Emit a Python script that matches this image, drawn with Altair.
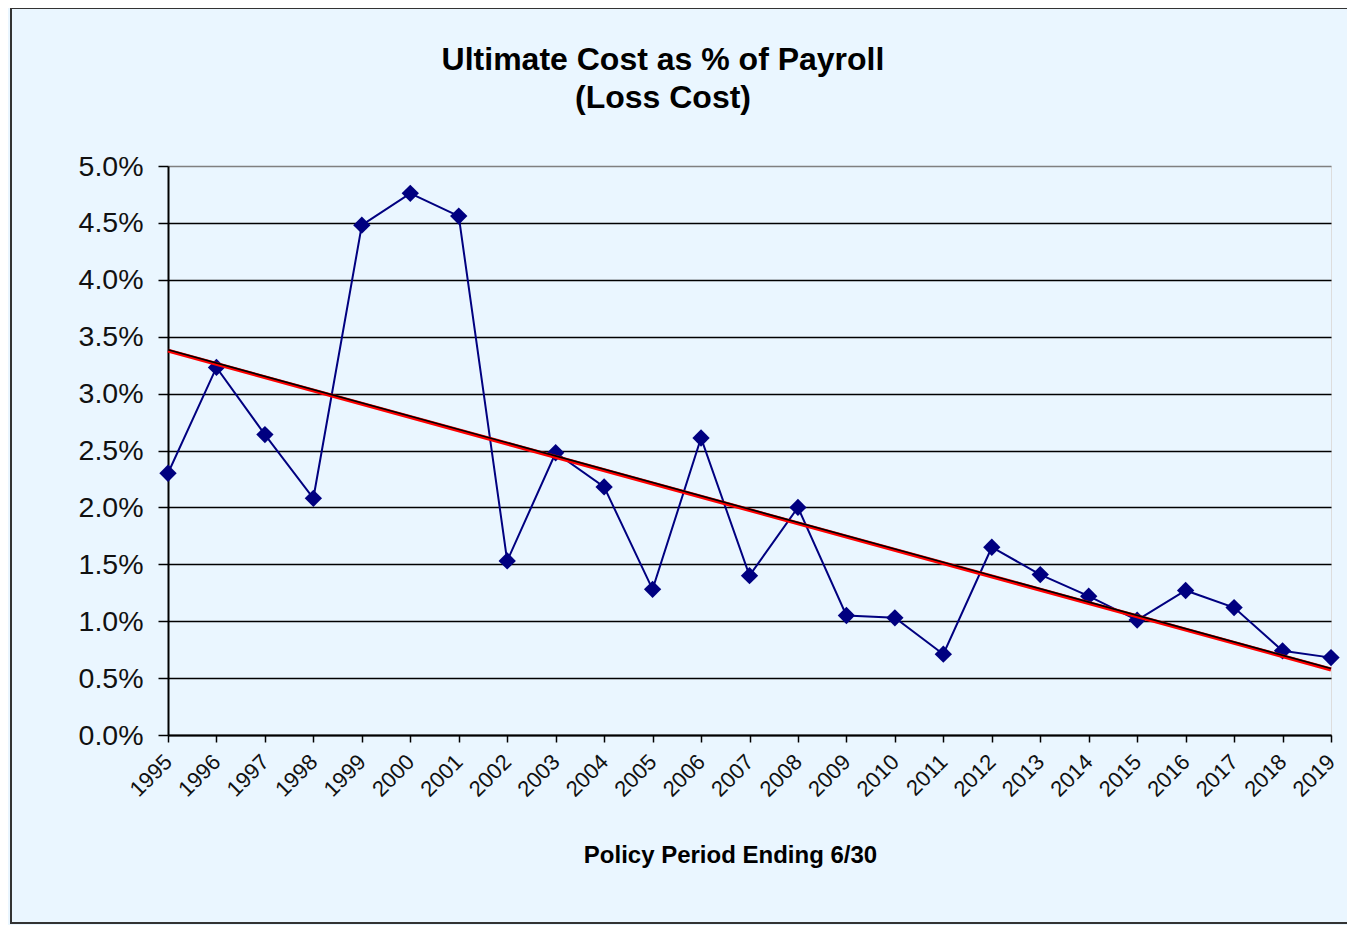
import altair as alt
import pandas as pd

years = [1995, 1996, 1997, 1998, 1999, 2000, 2001, 2002, 2003, 2004, 2005, 2006,
         2007, 2008, 2009, 2010, 2011, 2012, 2013, 2014, 2015, 2016, 2017, 2018, 2019]
cost_pct = [2.30, 3.23, 2.64, 2.08, 4.48, 4.76, 4.56, 1.53, 2.48, 2.18, 1.28, 2.61,
            1.40, 2.00, 1.05, 1.03, 0.71, 1.65, 1.41, 1.22, 1.01, 1.27, 1.12, 0.74, 0.68]
y_ticks = [0.0, 0.5, 1.0, 1.5, 2.0, 2.5, 3.0, 3.5, 4.0, 4.5, 5.0]

title_lines = ["Ultimate Cost as % of Payroll", "(Loss Cost)"]
x_title = "Policy Period Ending 6/30"

df = pd.DataFrame({"year": years, "cost": cost_pct})

FONT = "Liberation Sans"
NAVY = "#000080"

x_enc = alt.X(
    "year:Q",
    scale=alt.Scale(domain=[years[0], years[-1]], nice=False, zero=False),
    axis=alt.Axis(
        values=years, format="d", title=x_title,
        labelAngle=-45, labelAlign="right", labelBaseline="middle",
        labelFontSize=22, labelFont=FONT, labelColor="#111111",
        labelPadding=16, tickSize=7, tickColor="black", tickWidth=1.5,
        domainColor="black", domainWidth=2, grid=False,
        labelFlush=False, labelOverlap=False, labelBound=False,
        titleFont=FONT, titleFontSize=24, titleFontWeight="bold", titleColor="black",
        titleX=562, titleY=127, titleAlign="center", titleBaseline="alphabetic",
        titleAnchor="start",
    ),
)
y_enc = alt.Y(
    "cost:Q",
    scale=alt.Scale(domain=[0, 5], nice=False, zero=True),
    axis=alt.Axis(
        values=y_ticks, title=None,
        labelExpr="format(datum.value, '.1f') + '%'",
        labelFontSize=28.5, labelFont=FONT, labelColor="#111111",
        labelPadding=15, tickSize=10, tickColor="black", tickWidth=1.5,
        domainColor="black", domainWidth=2,
        grid=True, gridWidth=1.6,
        gridColor=alt.condition("datum.value >= 5", alt.value("#808080"), alt.value("black")),
    ),
)

base = alt.Chart(df)
one = alt.Data(values=[{"k": 1}])

border = alt.Chart(one).mark_rect(
    filled=False, stroke="#333333", strokeWidth=2
).encode(
    x=alt.value(-157), x2=alt.value(1300), y=alt.value(-158), y2=alt.value(757)
)

title = alt.Chart(one).mark_text(
    text=title_lines, font=FONT, fontSize=32, fontWeight="bold", color="black",
    lineHeight=38, align="center", baseline="alphabetic"
).encode(x=alt.value(495), y=alt.value(-96))

data_line = base.mark_line(color=NAVY, strokeWidth=2).encode(x=x_enc, y=y_enc)
points = base.mark_point(shape="diamond", filled=True, color=NAVY, size=300, opacity=1).encode(
    x="year:Q", y="cost:Q"
)
trend_red = base.transform_regression("year", "cost").mark_line(
    color="#FF0000", strokeWidth=4
).encode(x="year:Q", y="cost:Q")
trend_black = base.transform_regression("year", "cost").mark_line(
    color="#000000", strokeWidth=1.6, yOffset=-0.9
).encode(x="year:Q", y="cost:Q")

chart = alt.layer(border, title, data_line, points, trend_red, trend_black).properties(
    width=1163,
    height=569,
    padding={"left": 160, "top": 158, "right": 16, "bottom": 190},
    autosize=alt.AutoSizeParams(type="none"),
    background="#EAF6FF",
).configure_view(
    fill="#FFFFCC", stroke="#808080", strokeWidth=2
).configure(font=FONT)

chart.save("out.html", embed_options={"renderer": "svg", "actions": False})
